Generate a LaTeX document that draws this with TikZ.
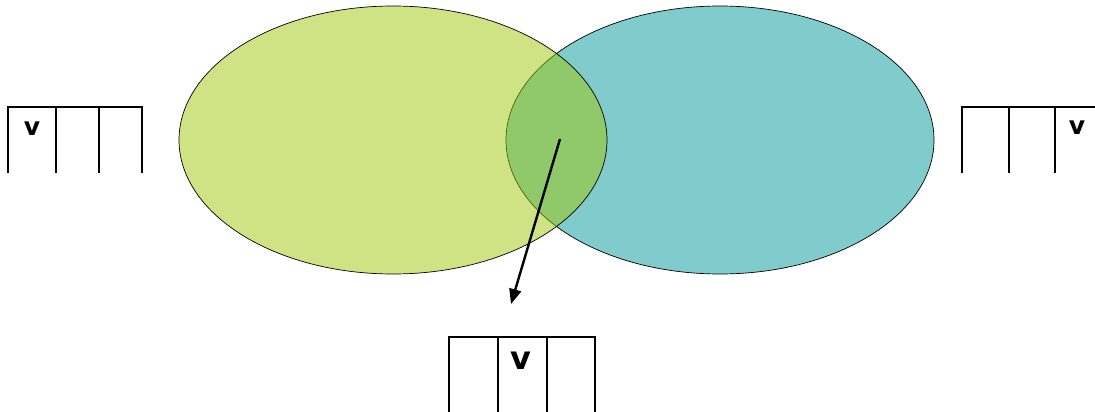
\documentclass[tikz,border=0pt]{standalone}
\usepackage{fontspec}
\setmainfont{DejaVu Sans}
\usetikzlibrary{arrows.meta}
\definecolor{leftgreen}{RGB}{160,200,10}
\definecolor{rightteal}{RGB}{128,203,203}
\tikzset{
  setline/.style={line width=0.7pt, draw=black},
  cell/.style={line width=2pt, draw=black},
  vlabel/.style={font=\bfseries\fontsize{25}{25}\selectfont, inner sep=0pt},
  vbig/.style={font=\bfseries\fontsize{32}{32}\selectfont, inner sep=0pt},
  arrowline/.style={line width=2.4pt, -{Triangle[length=15pt,width=12pt]}}
}
\begin{document}
\begin{tikzpicture}[x=1pt,y=-1pt]
\useasboundingbox (0,0) rectangle (1095,412);
% sets
\draw[setline, fill=rightteal] (720,140) ellipse [x radius=214, y radius=134];
\draw[setline, fill=leftgreen, fill opacity=0.5] (393,140) ellipse [x radius=214, y radius=134];
% left array
\draw[cell] (8,173) -- (8,107) -- (142,107) -- (142,173);
\draw[cell] (56,107) -- (56,173);
\draw[cell] (99,107) -- (99,173);
\node[vlabel] (vleft) at (32,129) {v};
% right array
\draw[cell] (962,173) -- (962,107) -- (1095,107);
\draw[cell] (1009,107) -- (1009,173);
\draw[cell] (1055,107) -- (1055,173);
\node[vlabel] (vright) at (1077,128) {v};
% bottom array
\draw[cell] (449,412) -- (449,337) -- (595,337) -- (595,412);
\draw[cell] (498,337) -- (498,412);
\draw[cell] (547,337) -- (547,412);
\node[vbig] (vbottom) at (521,361) {v};
% arrow
\coordinate (lens) at (560,139);
\coordinate (arrowend) at (511,304);
\draw[arrowline] (lens) -- (arrowend);
\end{tikzpicture}
\end{document}
